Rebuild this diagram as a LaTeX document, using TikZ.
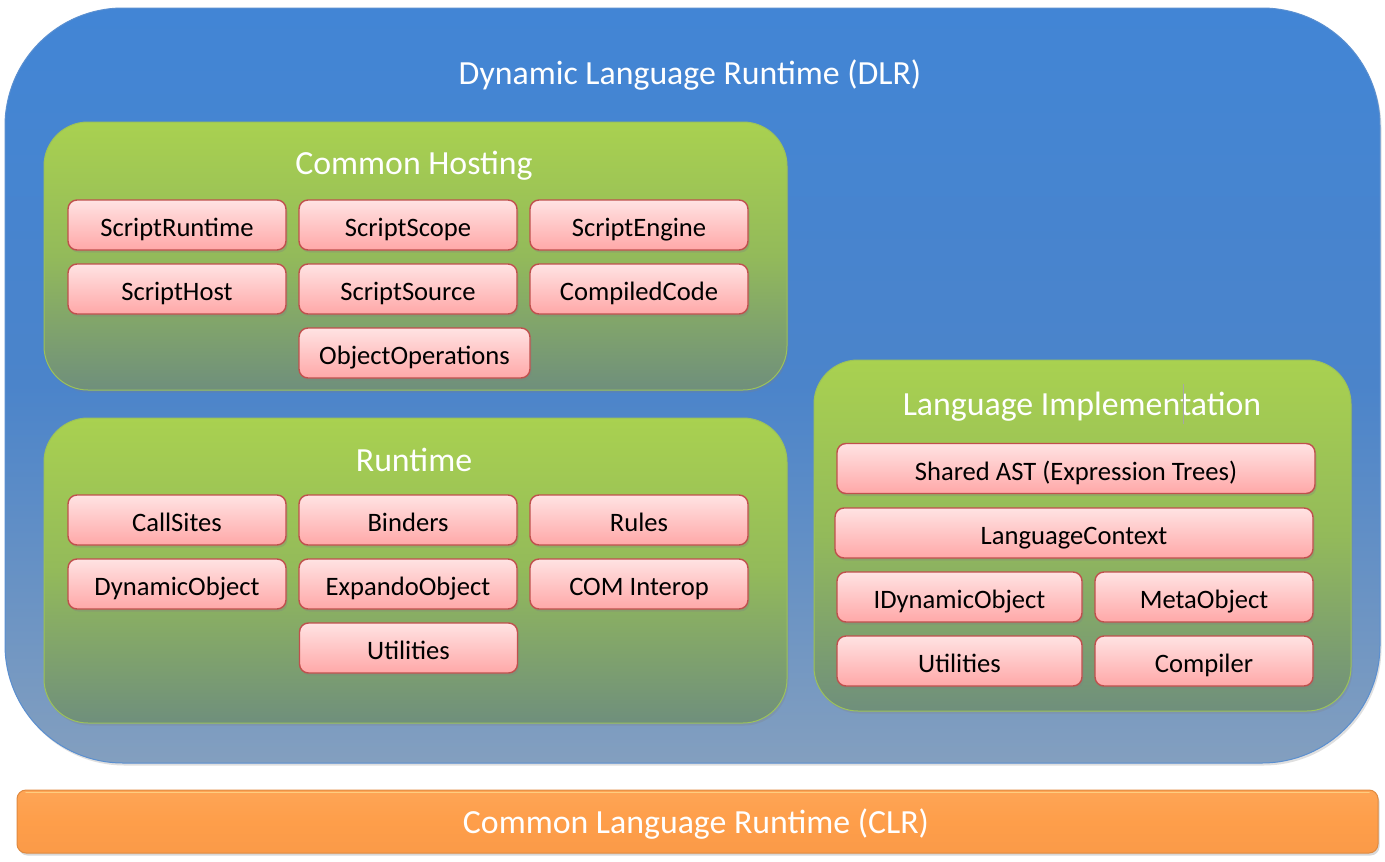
\documentclass[tikz,border=0pt]{standalone}
\usepackage{fontspec}
\setmainfont{Carlito}
\usetikzlibrary{shadows}
\definecolor{dlrtop}{HTML}{4285D5}
\definecolor{dlrmid}{HTML}{4B84CA}
\definecolor{dlrbot}{HTML}{839FBF}
\definecolor{dlredge}{HTML}{5A8FD0}
\definecolor{grtop}{HTML}{A9D150}
\definecolor{grmid}{HTML}{93BA5A}
\definecolor{grbot}{HTML}{6F8F7C}
\definecolor{gredge}{HTML}{9CC25A}
\definecolor{pktop}{HTML}{FFE3E3}
\definecolor{pkbot}{HTML}{FFA8A8}
\definecolor{pkedge}{HTML}{C0504D}
\definecolor{ortop}{HTML}{FEA556}
\definecolor{ormid}{HTML}{FE9E4A}
\definecolor{orbot}{HTML}{FA9A48}
\definecolor{oredge}{HTML}{E08A40}
\definecolor{orhi}{HTML}{FFD88A}
\tikzset{
  dlrbox/.style={rounded corners=118pt, top color=dlrtop, bottom color=dlrbot, middle color=dlrmid, draw=dlredge, line width=1pt,
    drop shadow={opacity=0.25, shadow xshift=1.5pt, shadow yshift=-2.5pt}},
  grpbox/.style={rounded corners=44pt, top color=grtop, bottom color=grbot, middle color=grmid, draw=gredge, line width=1pt,
    drop shadow={opacity=0.25, shadow xshift=1.5pt, shadow yshift=-2.5pt}},
  pbox/.style={rounded corners=9pt, top color=pktop, bottom color=pkbot, draw=pkedge, line width=1.4pt,
    minimum height=50pt, inner sep=0pt, text height=28.6pt, text depth=5pt,
    font=\fontsize{26.6}{30}\selectfont, text=black,
    drop shadow={opacity=0.3, shadow xshift=1.5pt, shadow yshift=-2.5pt}},
  wbox/.style={pbox, minimum width=218pt},
  ttl/.style={font=\fontsize{33.8}{38}\selectfont, text=white, inner sep=0pt, text height=30pt, text depth=7pt},
  clrbox/.style={rounded corners=9pt, top color=ortop, bottom color=orbot, middle color=ormid, draw=oredge, line width=1pt,
    drop shadow={opacity=0.3, shadow xshift=1.5pt, shadow yshift=-2.5pt}},
}
\begin{document}
\begin{tikzpicture}[x=1pt,y=-1pt]
\useasboundingbox[fill=white] (0,0) rectangle (1385,862);
% DLR
\draw[dlrbox] (5,8) rectangle (1380,763);
\node[ttl] (dlr) at (690,73) {Dynamic Language Runtime (DLR)};
% Common Hosting
\draw[grpbox] (44,122) rectangle (787,390);
\node[ttl] (ch) at (414,163) {Common Hosting};
\node[wbox] (sr) at (177,225) {ScriptRuntime};
\node[wbox] (ss) at (408,225) {ScriptScope};
\node[wbox] (se) at (639,225) {ScriptEngine};
\node[wbox] (sh) at (177,289) {ScriptHost};
\node[wbox] (ssrc) at (408,289) {ScriptSource};
\node[wbox] (cc) at (639,289) {CompiledCode};
\node[pbox, minimum width=231pt] (oo) at (414.5,353) {ObjectOperations};
% Runtime
\draw[grpbox] (44,418) rectangle (787,723);
\node[ttl] (rt) at (414,460) {Runtime};
\node[wbox] (cs) at (177,520) {CallSites};
\node[wbox] (bi) at (408,520) {Binders};
\node[wbox] (ru) at (639,520) {Rules};
\node[wbox] (do) at (177,584) {DynamicObject};
\node[wbox] (eo) at (408,584) {ExpandoObject};
\node[wbox] (com) at (639,584) {COM Interop};
\node[wbox] (ut) at (408.5,648) {Utilities};
% Language Implementation
\draw[grpbox] (814,360) rectangle (1351,711);
\node[ttl] (li) at (1082,404) {Language Implementation};
\draw[gray!70, line width=1pt] (1183,384) -- (1183,424);
\node[pbox, minimum width=478pt] (ast) at (1076,468.5) {Shared AST (Expression Trees)};
\node[pbox, minimum width=478pt] (lc) at (1074,533) {LanguageContext};
\node[pbox, minimum width=245pt] (ido) at (959.5,597) {IDynamicObject};
\node[pbox, minimum width=218pt] (mo) at (1204,597) {MetaObject};
\node[pbox, minimum width=245pt] (lut) at (959.5,661) {Utilities};
\node[pbox, minimum width=218pt] (cmp) at (1204,661) {Compiler};
% CLR
\draw[clrbox] (17,790) rectangle (1378,853);
\draw[orhi, line width=1.5pt, opacity=0.8, line cap=round] (26,792.5) -- (1369,792.5);
\node[ttl] (clr) at (696,822) {Common Language Runtime (CLR)};
\end{tikzpicture}
\end{document}
